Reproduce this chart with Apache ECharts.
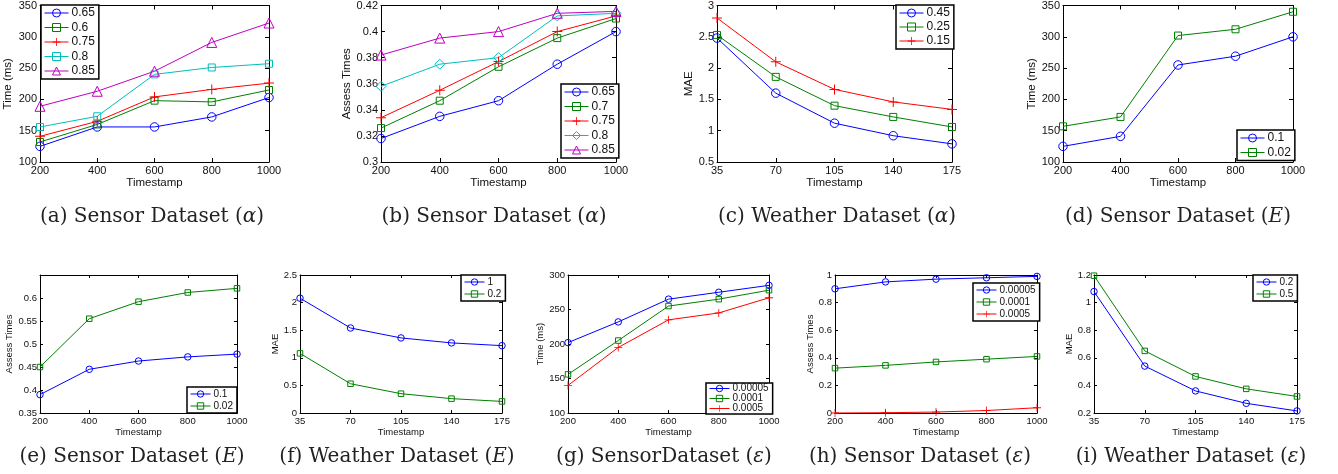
<!DOCTYPE html>
<html><head><meta charset="utf-8">
<script src="https://cdn.jsdelivr.net/npm/echarts@6/dist/echarts.min.js"></script>
<style>html,body{margin:0;padding:0;background:#fff}#c{width:1338px;height:474px}</style>
</head><body><div id="c"></div><script>
// ---------- data ----------
const xSensor = [200, 400, 600, 800, 1000];
const xWeather = [35, 70, 105, 140, 175];
const xSensorAxis = [200, 1000, 200];
const xWeatherAxis = [35, 175, 35];

// (a)
const aLabels = ['0.65', '0.6', '0.75', '0.8', '0.85'];
const aS1 = [125, 156, 156, 172, 203];
const aS2 = [132, 160, 198, 196, 215];
const aS3 = [141, 165, 204, 216, 226];
const aS4 = [156, 173, 240, 251, 257];
const aS5 = [189, 213, 245, 291, 322];
const aYAxis = [100, 350, 50];
// (b)
const bLabels = ['0.65', '0.7', '0.75', '0.8', '0.85'];
const bS1 = [0.318, 0.335, 0.347, 0.375, 0.400];
const bS2 = [0.326, 0.347, 0.373, 0.395, 0.410];
const bS3 = [0.334, 0.355, 0.377, 0.400, 0.412];
const bS4 = [0.358, 0.375, 0.380, 0.412, 0.414];
const bS5 = [0.382, 0.395, 0.400, 0.414, 0.4155];
const bYAxis = [0.3, 0.42, 0.02];
// (c)
const cLabels = ['0.45', '0.25', '0.15'];
const cS1 = [2.48, 1.60, 1.12, 0.92, 0.79];
const cS2 = [2.53, 1.86, 1.40, 1.22, 1.06];
const cS3 = [2.80, 2.10, 1.66, 1.46, 1.34];
const cYAxis = [0.5, 3, 0.5];
// (d)
const dLabels = ['0.1', '0.02'];
const dS1 = [125, 141, 255, 269, 300];
const dS2 = [157, 172, 302, 312, 340];
const dYAxis = [100, 350, 50];
// (e)
const eLabels = ['0.1', '0.02'];
const eS1 = [0.390, 0.445, 0.463, 0.472, 0.478];
const eS2 = [0.450, 0.555, 0.592, 0.612, 0.621];
const eYAxis = [0.35, 0.65, 0.05];
// (f)
const fLabels = ['1', '0.2'];
const fS1 = [2.08, 1.54, 1.36, 1.27, 1.22];
const fS2 = [1.08, 0.53, 0.35, 0.26, 0.21];
const fYAxis = [0, 2.5, 0.5];
// (g)
const gLabels = ['0.00005', '0.0001', '0.0005'];
const gS1 = [202, 232, 265, 275, 285];
const gS2 = [156, 205, 255, 265, 278];
const gS3 = [140, 195, 235, 245, 267];
const gYAxis = [100, 300, 50];
// (h)
const hLabels = ['0.00005', '0.0001', '0.0005'];
const hS1 = [0.90, 0.95, 0.97, 0.98, 0.99];
const hS2 = [0.325, 0.345, 0.37, 0.39, 0.41];
const hS3 = [0.0, 0.002, 0.007, 0.018, 0.038];
const hYAxis = [0, 1, 0.2];
// (i)
const iLabels = ['0.2', '0.5'];
const iS1 = [1.08, 0.54, 0.36, 0.27, 0.215];
const iS2 = [1.195, 0.65, 0.465, 0.375, 0.32];
const iYAxis = [0.2, 1.2, 0.2];

const xName = 'Timestamp';
const captions = [
  '(a) Sensor Dataset ({it|α})', '(b) Sensor Dataset ({it|α})', '(c) Weather Dataset ({it|α})', '(d) Sensor Dataset ({it|E})',
  '(e) Sensor Dataset ({it|E})', '(f) Weather Dataset ({it|E})', '(g) SensorDataset ({it|ε})', '(h) Sensor Dataset ({it|ε})', '(i) Weather Dataset ({it|ε})'
];

// ---------- styles / layout ----------
const BLUE = '#0000ff', GREEN = '#008000', RED = '#ff0000', CYAN = '#00bfbf', MAG = '#bf00bf';
const PLUS = 'path://M4.5,0H5.5V4.5H10V5.5H5.5V10H4.5V5.5H0V4.5H4.5Z';
const SYM = {
  o: ['circle', 8.5, 6.5], s: ['rect', 7, 5.5], p: [PLUS, 10, 8],
  d: ['diamond', 10, 8], t: ['triangle', 10, 8]
};
const FONT = 'Liberation Sans, Arial, sans-serif';
const fmt = v => String(parseFloat(Number(v).toFixed(6)));

const panels = [
  {key:'a', row:0, grid:[40,5,229,157], x:xSensor, xa:xSensorAxis, ya:aYAxis, yName:'Time (ms)', yGap:26,
   ser:[[aLabels[0],aS1,BLUE,'o'],[aLabels[1],aS2,GREEN,'s'],[aLabels[2],aS3,RED,'p'],[aLabels[3],aS4,CYAN,'s'],[aLabels[4],aS5,MAG,'t']],
   leg:{left:41, top:5, gap:2.5, pad:[2,4,2,3]}, cap:[152,207]},
  {key:'b', row:0, grid:[381,1,235,161], x:xSensor, xa:xSensorAxis, ya:bYAxis, yName:'Assess Times', yGap:24.5,
   ser:[[bLabels[0],bS1,BLUE,'o'],[bLabels[1],bS2,GREEN,'s'],[bLabels[2],bS3,RED,'p'],[bLabels[3],bS4,CYAN,'d'],[bLabels[4],bS5,MAG,'t']],
   leg:{left:561, top:84, gap:2.5, pad:[2,4,2,3]}, cap:[494,207]},
  {key:'c', row:0, grid:[717,5,235,157], x:xWeather, xa:xWeatherAxis, ya:cYAxis, yName:'MAE', yGap:16.5,
   ser:[[cLabels[0],cS1,BLUE,'o'],[cLabels[1],cS2,GREEN,'s'],[cLabels[2],cS3,RED,'p']],
   leg:{left:896, top:5, gap:2, pad:[2,4,2,3]}, cap:[837,207]},
  {key:'d', row:0, grid:[1063,4,230,158], x:xSensor, xa:xSensorAxis, ya:dYAxis, yName:'Time (ms)', yGap:25.5,
   ser:[[dLabels[0],dS1,BLUE,'o'],[dLabels[1],dS2,GREEN,'s']],
   leg:{left:1237, top:130, gap:2.5, pad:[2,4,2,3]}, cap:[1178,207]},
  {key:'e', row:1, grid:[40,275,197,138], x:xSensor, xa:xSensorAxis, ya:eYAxis, yName:'Assess Times', yGap:23, hideMax:true,
   ser:[[eLabels[0],eS1,BLUE,'o'],[eLabels[1],eS2,GREEN,'s']],
   leg:{left:187, top:387, gap:2, pad:[2,4,2,3]}, cap:[132,447]},
  {key:'f', row:1, grid:[300,275,202,138], x:xWeather, xa:xWeatherAxis, ya:fYAxis, yName:'MAE', yGap:16,
   ser:[[fLabels[0],fS1,BLUE,'o'],[fLabels[1],fS2,GREEN,'s']],
   leg:{left:461, top:275, gap:2, pad:[2,4,2,3]}, cap:[397,447]},
  {key:'g', row:1, grid:[568,275,201,138], x:xSensor, xa:xSensorAxis, ya:gYAxis, yName:'Time (ms)', yGap:21,
   ser:[[gLabels[0],gS1,BLUE,'o'],[gLabels[1],gS2,GREEN,'s'],[gLabels[2],gS3,RED,'p']],
   leg:{left:706, top:383, gap:0, pad:[0.5,4,0.5,3]}, cap:[664,447]},
  {key:'h', row:1, grid:[835,275,202,138], x:xSensor, xa:xSensorAxis, ya:hYAxis, yName:'Assess Times', yGap:18,
   ser:[[hLabels[0],hS1,BLUE,'o'],[hLabels[1],hS2,GREEN,'s'],[hLabels[2],hS3,RED,'p']],
   leg:{left:973, top:283, gap:2, pad:[2,4,2,3]}, cap:[920,447]},
  {key:'i', row:1, grid:[1094,275,203,138], x:xWeather, xa:xWeatherAxis, ya:iYAxis, yName:'MAE', yGap:16,
   ser:[[iLabels[0],iS1,BLUE,'o'],[iLabels[1],iS2,GREEN,'s']],
   leg:{left:1253, top:275, gap:2, pad:[2,4,2,3]}, cap:[1191,447]}
];

// ---------- build option ----------
const grid = [], xAxis = [], yAxis = [], series = [], legend = [], title = [];
const line = {lineStyle: {color: '#000', width: 1}};
panels.forEach((p, i) => {
  const fs = p.row === 0 ? 11 : 9.5;
  const nfs = p.row === 0 ? 11.5 : 9.5;
  grid.push({left: p.grid[0], top: p.grid[1], width: p.grid[2], height: p.grid[3], containLabel: false});
  const tick = {show: true, inside: true, length: p.row === 0 ? 4 : 3, lineStyle: {color: '#000', width: 1}};
  const baseX = {gridIndex: i, type: 'value', min: p.xa[0], max: p.xa[1], interval: p.xa[2],
    axisLine: Object.assign({onZero: false, show: true}, line), axisTick: tick, splitLine: {show: false}};
  const baseY = {gridIndex: i, type: 'value', min: p.ya[0], max: p.ya[1], interval: p.ya[2],
    axisLine: Object.assign({onZero: false, show: true}, line), axisTick: tick, splitLine: {show: false}};
  xAxis.push(Object.assign({}, baseX, {position: 'bottom', name: xName, nameLocation: 'middle',
    nameGap: p.row === 0 ? 14 : 11, nameTextStyle: {fontSize: nfs, color: '#111', fontFamily: FONT},
    axisLabel: {fontSize: fs, color: '#111', margin: 3, fontFamily: FONT, formatter: fmt}}));
  xAxis.push(Object.assign({}, baseX, {position: 'top', axisLabel: {show: false}}));
  yAxis.push(Object.assign({}, baseY, {position: 'left', name: p.yName, nameLocation: 'middle',
    nameGap: p.yGap, nameTextStyle: {fontSize: nfs, color: '#111', fontFamily: FONT},
    axisLabel: {fontSize: fs, color: '#111', margin: 3, fontFamily: FONT, showMaxLabel: !p.hideMax, formatter: fmt}}));
  yAxis.push(Object.assign({}, baseY, {position: 'right', axisLabel: {show: false}}));
  const legData = [];
  p.ser.forEach(s => {
    const nm = p.key + '|' + s[0];
    const sym = SYM[s[3]];
    const isPlus = s[3] === 'p';
    const itemStyle = {color: isPlus ? s[2] : 'rgba(255,255,255,0)', borderColor: s[2], borderWidth: isPlus ? 0 : 1};
    legData.push({name: nm, itemStyle: itemStyle, lineStyle: {color: s[2], width: 1}});
    series.push({
      type: 'line', name: nm, xAxisIndex: 2 * i, yAxisIndex: 2 * i,
      data: p.x.map((xv, k) => [xv, s[1][k]]),
      symbol: sym[0], symbolSize: p.row === 0 ? sym[1] : sym[2], showAllSymbol: true,
      color: s[2], lineStyle: {color: s[2], width: 1},
      itemStyle: itemStyle,
      emphasis: {disabled: true},
      clip: false, animation: false, z: 3
    });
  });
  legend.push({
    data: legData, orient: 'vertical', left: p.leg.left, top: p.leg.top,
    itemGap: p.leg.gap, padding: p.leg.pad, itemWidth: p.row === 0 ? 24 : 20, itemHeight: p.row === 0 ? 10 : 8,
    borderColor: '#000', borderWidth: 1.5, backgroundColor: '#fff', selectedMode: false,
    formatter: n => n.split('|')[1],
    textStyle: {fontSize: p.row === 0 ? 12 : 10, color: '#111', fontFamily: FONT, padding: [0, 0, 0, -2]}
  });
  title.push({
    text: captions[i], left: p.cap[0], top: p.cap[1], textAlign: 'center', padding: 0,
    textStyle: {fontFamily: 'DejaVu Serif', fontWeight: 'normal', fontSize: 20, color: '#222',
      rich: {it: {fontFamily: 'DejaVu Serif', fontStyle: 'italic', fontSize: 20, color: '#222'}}}
  });
});

const chart = echarts.init(document.getElementById('c'), null, {renderer: 'canvas'});
chart.setOption({animation: false, backgroundColor: '#fff', title, grid, xAxis, yAxis, series, legend});
</script></body></html>
